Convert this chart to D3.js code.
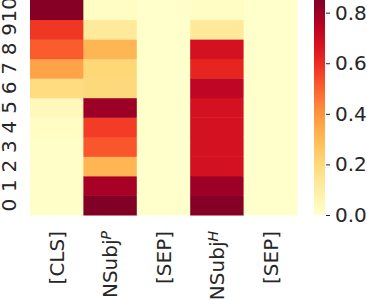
<!DOCTYPE html>
<html>
<head>
<meta charset="utf-8">
<script src="https://cdn.jsdelivr.net/npm/d3@7"></script>
<style>
  body { margin: 0; background: #fff; }
  text { font-family: "DejaVu Sans", sans-serif; fill: #262626; }
</style>
</head>
<body>
<svg id="heat" width="367" height="300"></svg>
<script>
// tokens along x, layers 0..10 along y
var tokens = ["[CLS]", "NSubj^P", "[SEP]", "NSubj^H", "[SEP]"];
var layers = [0, 1, 2, 3, 4, 5, 6, 7, 8, 9, 10];

// one array per token, index = layer
var cls   = [0.01, 0.01, 0.01, 0.01, 0.02, 0.04, 0.19, 0.36, 0.51, 0.58, 0.84];
var subjP = [0.85, 0.78, 0.31, 0.52, 0.57, 0.80, 0.20, 0.21, 0.31, 0.12, 0.02];
var sep1  = [0.00, 0.00, 0.00, 0.00, 0.00, 0.00, 0.00, 0.00, 0.00, 0.00, 0.00];
var subjH = [0.84, 0.80, 0.68, 0.68, 0.68, 0.68, 0.73, 0.62, 0.68, 0.12, 0.02];
var sep2  = [0.00, 0.00, 0.00, 0.00, 0.00, 0.00, 0.00, 0.00, 0.00, 0.00, 0.00];

var cbTicks = [0.0, 0.2, 0.4, 0.6, 0.8];
var vmax = 0.85;

(function Heat() {
    var svg = d3.select("#heat");
    var left = 30, right = 297, top = 0, bottom = 215;

    var cols = [cls, subjP, sep1, subjH, sep2];
    var cells = [];
    cols.forEach(function(arr, i) {
        arr.forEach(function(v, j) {
            cells.push({ tok: i, layer: layers[j], value: v });
        });
    });

    var x = d3.scaleBand().domain(d3.range(tokens.length)).range([left, right]);
    var y = d3.scaleBand().domain(layers).range([bottom, top]);
    var color = d3.scaleSequential(d3.interpolateYlOrRd).domain([0, vmax]);

    svg.append("g").selectAll("rect")
       .data(cells)
       .enter().append("rect")
       .attr("x", function(d) { return x(d.tok); })
       .attr("y", function(d) { return y(d.layer); })
       .attr("width", x.bandwidth() + 0.5)
       .attr("height", y.bandwidth() + 0.5)
       .attr("fill", function(d) { return color(d.value); });

    // y labels, rotated
    svg.append("g").selectAll("text")
       .data(layers)
       .enter().append("text")
       .attr("transform", function(d) {
            return "translate(16," + (y(d) + y.bandwidth() / 2) + ") rotate(-90)";
       })
       .attr("text-anchor", "middle")
       .style("font-size", "20px")
       .text(function(d) { return d; });

    // x labels, rotated, with superscripts
    var xl = svg.append("g").selectAll("text")
       .data(tokens)
       .enter().append("text")
       .attr("transform", function(d, i) {
            return "translate(" + (x(i) + x.bandwidth() / 2) + ",231) rotate(-90)";
       })
       .attr("dy", "0.36em")
       .attr("text-anchor", "end")
       .style("font-size", "20px");

    xl.each(function(d) {
        var t = d3.select(this);
        var parts = d.split("^");
        t.append("tspan").text(parts[0]);
        if (parts[1]) {
            t.append("tspan")
             .attr("dy", "-0.45em")
             .style("font-size", "14px")
             .style("font-style", "italic")
             .text(parts[1]);
        }
    });

    // colorbar
    var cbx = 314, cbw = 11;
    var cy = d3.scaleLinear().domain([0, vmax]).range([bottom, top]);

    var defs = svg.append("defs");
    var grad = defs.append("linearGradient")
        .attr("id", "cbgrad")
        .attr("x1", 0).attr("y1", 1).attr("x2", 0).attr("y2", 0);
    d3.range(0, 1.0001, 0.05).forEach(function(t) {
        grad.append("stop")
            .attr("offset", t)
            .attr("stop-color", color(t * vmax));
    });

    svg.append("rect")
       .attr("x", cbx).attr("y", cy(vmax))
       .attr("width", cbw).attr("height", cy(0) - cy(vmax))
       .attr("fill", "url(#cbgrad)");

    var axis = d3.axisRight(cy)
                 .tickValues(cbTicks)
                 .tickFormat(d3.format(".1f"))
                 .tickSize(4)
                 .tickPadding(5);

    var ga = svg.append("g")
       .attr("transform", "translate(" + (cbx + cbw + 1) + ",0)")
       .call(axis);
    ga.select(".domain").remove();
    ga.selectAll("line").attr("stroke", "#262626");
    ga.selectAll("text").style("font-size", "20px").attr("font-family", null);
}());
</script>
</body>
</html>
